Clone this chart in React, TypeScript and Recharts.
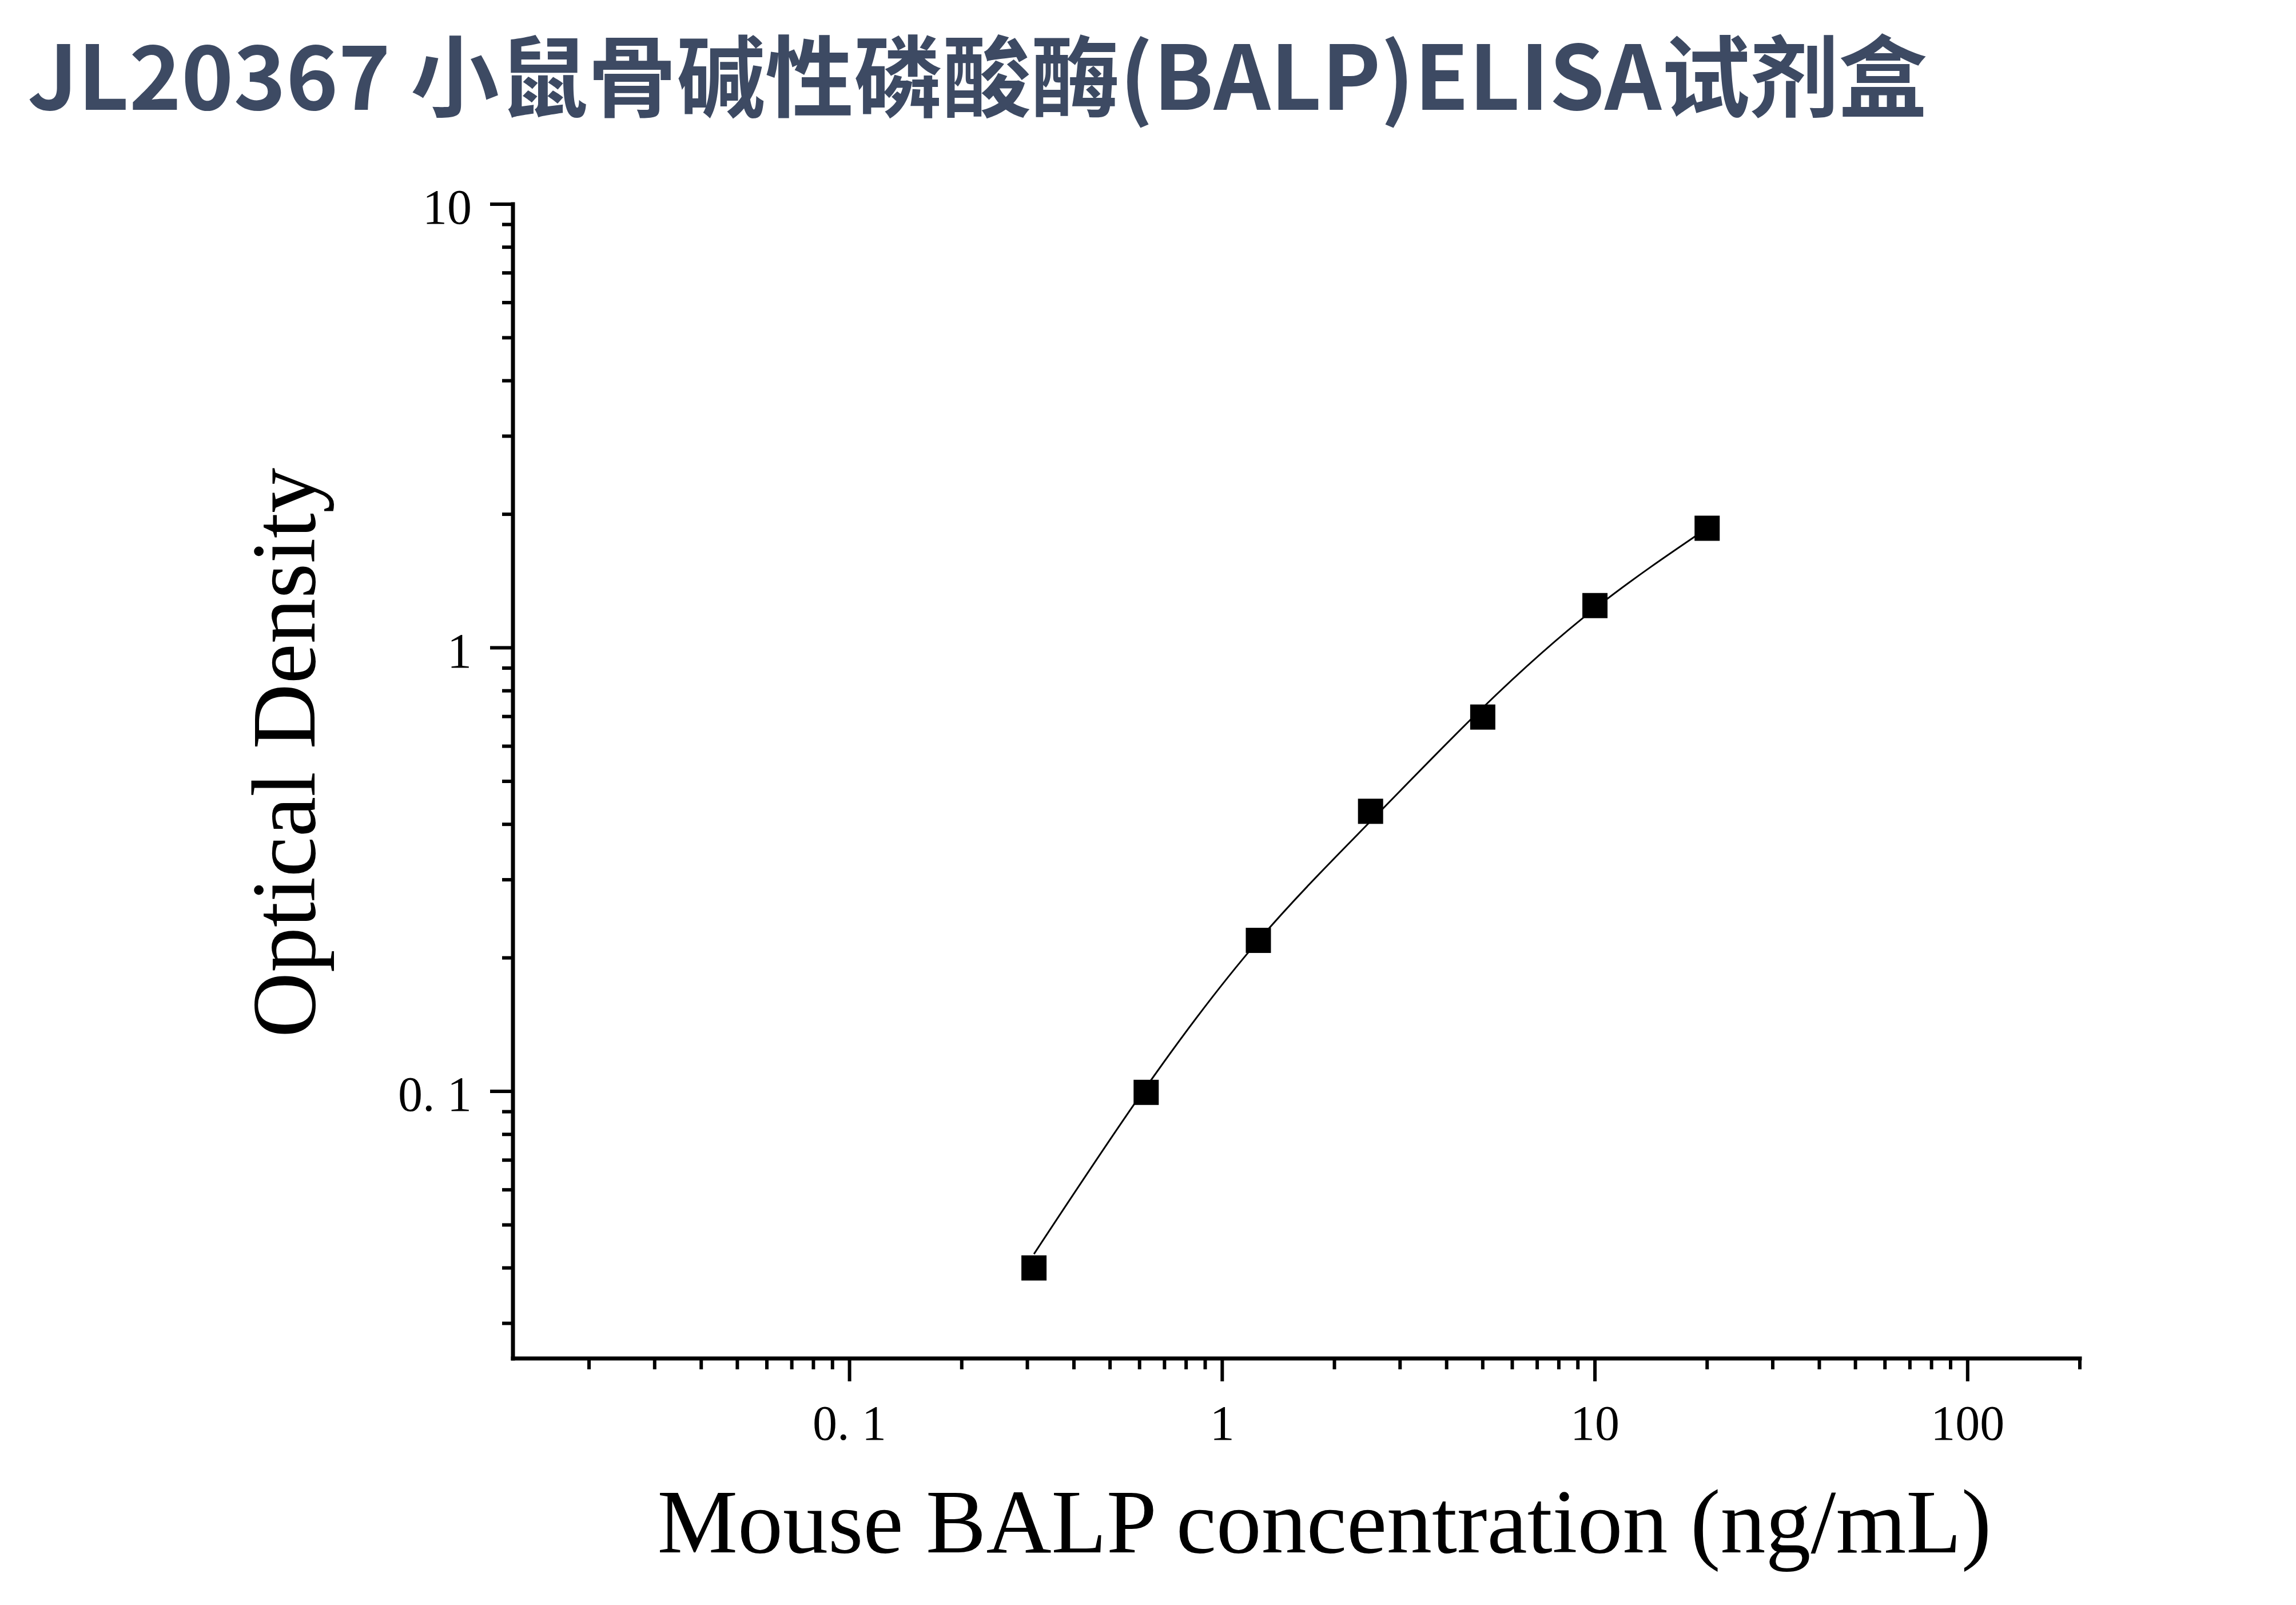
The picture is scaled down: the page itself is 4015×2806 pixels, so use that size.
import React from 'react';
import { ComposedChart, Line, XAxis, YAxis } from 'recharts';

// standard curve points
const concentrations = [0.3125, 0.625, 1.25, 2.5, 5, 10, 20];
const odValues = [0.040, 0.0995, 0.219, 0.428, 0.698, 1.245, 1.86];
// fitted curve at the same concentrations
const fitValues = [0.043, 0.1023, 0.2188, 0.4064, 0.7328, 1.227, 1.86];

const xMajorTicks = [0.1, 1, 10, 100];
const xMinorTicks = [
  0.02, 0.03, 0.04, 0.05, 0.06, 0.07, 0.08, 0.09,
  0.2, 0.3, 0.4, 0.5, 0.6, 0.7, 0.8, 0.9,
  2, 3, 4, 5, 6, 7, 8, 9,
  20, 30, 40, 50, 60, 70, 80, 90,
  200,
];
const yMajorTicks = [0.1, 1, 10];
const yMinorTicks = [
  0.03, 0.04, 0.05, 0.06, 0.07, 0.08, 0.09,
  0.2, 0.3, 0.4, 0.5, 0.6, 0.7, 0.8, 0.9,
  2, 3, 4, 5, 6, 7, 8, 9,
];
const tickLabels: Record<number, string> = { 0.1: '0. 1', 1: '1', 10: '10', 100: '100' };

const title = 'JL20367 小鼠骨碱性磷酸酶(BALP)ELISA试剂盒';
const xLabel = 'Mouse BALP concentration (ng/mL)';
const yLabel = 'Optical Density';

const W = 4015;
const H = 2806;
const SERIF = "'Liberation Serif', 'Times New Roman', serif";
const TICK_FONT = 86;
const MAJOR_LEN = 40;
const MINOR_LEN = 19;
const TICK_SIZE = 40;
const TICK_MARGIN = 10;

const data = concentrations.map((c, i) => ({ conc: c, od: odValues[i], fit: fitValues[i] }));

function XTick(props: any) {
  const { x, y, payload } = props;
  const v = payload.value;
  const axisY = y - TICK_SIZE - TICK_MARGIN;
  const major = xMajorTicks.includes(v);
  const len = major ? MAJOR_LEN : MINOR_LEN;
  return (
    <g>
      <line x1={x} x2={x} y1={axisY} y2={axisY + len} stroke="#000" strokeWidth={6} />
      {major && (
        <text x={x} y={axisY + 142} textAnchor="middle" fill="#000" fontSize={TICK_FONT} fontFamily={SERIF}>
          {tickLabels[v]}
        </text>
      )}
    </g>
  );
}

function YTick(props: any) {
  const { x, y, payload } = props;
  const v = payload.value;
  const axisX = x + TICK_SIZE + TICK_MARGIN;
  const major = yMajorTicks.includes(v);
  const len = major ? MAJOR_LEN : MINOR_LEN;
  return (
    <g>
      <line x1={axisX - len} x2={axisX} y1={y} y2={y} stroke="#000" strokeWidth={6} />
      {major && (
        <text x={axisX - 72} y={y + 34} textAnchor="end" fill="#000" fontSize={TICK_FONT} fontFamily={SERIF}>
          {tickLabels[v]}
        </text>
      )}
    </g>
  );
}

function SquareDot(props: any) {
  const { cx, cy, index } = props;
  if (cx == null || cy == null) return null;
  return <rect key={index} x={cx - 22} y={cy - 22} width={44} height={44} fill="#000" />;
}

function YAxisLabel(props: any) {
  const { viewBox } = props;
  const x = viewBox.x - 147;
  const y = viewBox.y + viewBox.height / 2 - 50;
  return (
    <text x={x} y={y} transform={`rotate(-90, ${x}, ${y})`} textAnchor="middle" fill="#000" fontSize={158} fontFamily={SERIF}>
      {yLabel}
    </text>
  );
}

function XAxisLabel(props: any) {
  const { viewBox } = props;
  const x = viewBox.x + viewBox.width / 2 + 49;
  const y = viewBox.y + 339;
  return (
    <text x={x} y={y} textAnchor="middle" fill="#000" fontSize={158} fontFamily={SERIF}>
      {xLabel}
    </text>
  );
}

export default function App() {
  const xTicks = [...xMajorTicks, ...xMinorTicks].sort((a, b) => a - b);
  const yTicks = [...yMajorTicks, ...yMinorTicks].sort((a, b) => a - b);

  return (
    <div style={{ position: 'absolute', left: 0, top: 0, width: W, height: H, background: '#fff', overflow: 'hidden' }}>
      <div
        style={{
          position: 'absolute',
          left: 48,
          top: 47,
          fontFamily: "'Noto Sans CJK SC', 'Noto Sans', sans-serif",
          fontWeight: 700,
          fontSize: 155,
          lineHeight: 1,
          color: '#3d4a63',
          whiteSpace: 'nowrap',
        }}
      >
        {title}
      </div>
      <ComposedChart width={W} height={H} data={data} margin={{ top: 357, right: 378, bottom: 231, left: 697 }}>
        <XAxis
          dataKey="conc"
          type="number"
          scale="log"
          domain={[0.0125, 200]}
          allowDataOverflow
          ticks={xTicks}
          interval={0}
          height={200}
          tickSize={TICK_SIZE}
          tickMargin={TICK_MARGIN}
          tickLine={false}
          tick={<XTick />}
          axisLine={{ stroke: '#000', strokeWidth: 7, strokeLinecap: 'square' }}
          label={<XAxisLabel />}
        />
        <YAxis
          type="number"
          scale="log"
          domain={[0.025, 10]}
          allowDataOverflow
          ticks={yTicks}
          interval={0}
          width={200}
          tickSize={TICK_SIZE}
          tickMargin={TICK_MARGIN}
          tickLine={false}
          tick={<YTick />}
          axisLine={{ stroke: '#000', strokeWidth: 7, strokeLinecap: 'square' }}
          label={<YAxisLabel />}
        />
        <Line
          dataKey="fit"
          type="natural"
          stroke="#000"
          strokeWidth={3}
          dot={false}
          activeDot={false}
          isAnimationActive={false}
        />
        <Line
          dataKey="od"
          stroke="none"
          dot={<SquareDot />}
          activeDot={false}
          isAnimationActive={false}
        />
      </ComposedChart>
    </div>
  );
}
